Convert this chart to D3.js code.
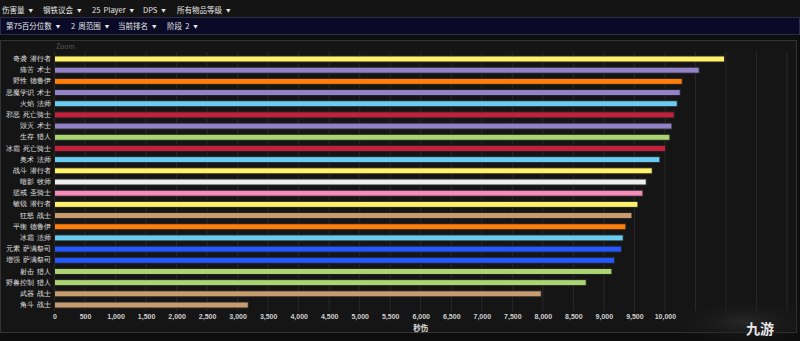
<!DOCTYPE html>
<html>
<head>
<meta charset="utf-8">
<script src="https://cdn.jsdelivr.net/npm/d3@7"></script>
<style>
  body { margin: 0; background: #0e0e0e; }
  svg { display: block; font-family: "Noto Sans CJK SC", "Noto Sans", sans-serif; }
</style>
</head>
<body>
<div id="chart-container"></div>
<script>
// Dữ liệu: tên chuyên精 + lớp, giá trị DPS, màu theo lớp
const specs = ["奇袭 潜行者", "痛苦 术士", "野性 德鲁伊", "恶魔学识 术士", "火焰 法师", "邪恶 死亡骑士",
  "毁灭 术士", "生存 猎人", "冰霜 死亡骑士", "奥术 法师", "战斗 潜行者", "暗影 牧师", "惩戒 圣骑士",
  "敏锐 潜行者", "狂怒 战士", "平衡 德鲁伊", "冰霜 法师", "元素 萨满祭司", "增强 萨满祭司",
  "射击 猎人", "野兽控制 猎人", "武器 战士", "角斗 战士"];
const dps = [10978, 10562, 10283, 10251, 10202, 10152, 10115, 10082, 10011, 9918, 9792, 9694, 9640,
  9558, 9460, 9361, 9317, 9290, 9176, 9132, 8711, 7974, 3175];
const classes = ["rogue", "warlock", "druid", "warlock", "mage", "dk", "warlock", "hunter", "dk", "mage",
  "rogue", "priest", "paladin", "rogue", "warrior", "druid", "mage", "shaman", "shaman", "hunter",
  "hunter", "warrior", "warrior"];
const classNames = ["rogue", "warlock", "druid", "mage", "dk", "hunter", "priest", "paladin", "warrior", "shaman"];
const classColors = ["#FFF26A", "#9482C9", "#FF7D0A", "#69CCF0", "#C41F3B", "#ABD473", "#EEEEEE", "#F58CBA", "#C79C6E", "#2459FF"];
const xTicks = d3.range(0, 12001, 500);
const menu1 = ["伤害量", "钢铁议会", "25 Player", "DPS", "所有物品等级"];
const menu2 = ["第75百分位数", "2 周范围", "当前排名", "阶段 2"];

const width = 800, height = 341;
const margin = { top: 53.4, right: 13, bottom: 30.4, left: 54.5 };

const svg = d3.select("#chart-container").append("svg")
  .attr("width", width).attr("height", height);

const data = specs.map((s, i) => ({ name: s, value: dps[i], cls: classes[i] }));
const color = d3.scaleOrdinal().domain(classNames).range(classColors);

// Nền
svg.append("rect").attr("width", width).attr("height", height).attr("fill", "#0e0e0e");

// Mục menu: chữ + mũi tên nhỏ
function menuItem(xPos, yPos, label) {
  const t = svg.append("text").attr("x", xPos).attr("y", yPos)
    .attr("fill", "#e6e6e6").style("font-size", "7.5px").style("word-spacing", "1.5px");
  t.append("tspan").text(label);
  t.append("tspan").attr("dx", 4).attr("dy", -0.5).style("font-size", "4.5px").text("▼");
}

// Thanh menu 1
svg.append("rect").attr("x", 0).attr("y", 0).attr("width", width).attr("height", 17).attr("fill", "#141414");
const m1x = [2, 43, 92, 143, 177];
menu1.forEach((t, i) => menuItem(m1x[i], 12.5, t));

// Thanh menu 2
svg.append("rect").attr("x", 0.5).attr("y", 17.5).attr("width", width - 1).attr("height", 17)
  .attr("fill", "#0a0a26").attr("stroke", "#2c2c44");
const m2x = [6, 71, 118, 167];
menu2.forEach((t, i) => menuItem(m2x[i], 28.5, t));

// Khung biểu đồ
svg.append("rect").attr("x", 0.5).attr("y", 40.5).attr("width", 796).attr("height", 292)
  .attr("fill", "#151515").attr("stroke", "#333");

svg.append("text").attr("x", 56).attr("y", 49).attr("fill", "#555")
  .style("font-size", "7px").text("Zoom");

const x = d3.scaleLinear().domain([0, 12000]).range([margin.left, 787]);
const y = d3.scaleBand().domain(specs).range([margin.top, height - margin.bottom]).paddingInner(0.46).paddingOuter(0.23);

// Lưới dọc
svg.append("g").selectAll("line").data(xTicks).enter().append("line")
  .attr("x1", d => x(d)).attr("x2", d => x(d))
  .attr("y1", 52).attr("y2", 311)
  .attr("stroke", "#2a2a2a").attr("stroke-width", 1);

// Trục x
const xAxis = svg.append("g").attr("transform", `translate(0, 311)`)
  .call(d3.axisBottom(x).tickValues(xTicks.filter(d => d <= 10000)).tickSize(0).tickPadding(3)
    .tickFormat(d3.format(",")));
xAxis.select(".domain").remove();
xAxis.selectAll("text").attr("fill", "#d0d0d0").style("font-size", "7px").style("font-weight", "bold");

svg.append("text").attr("x", (margin.left + 787) / 2).attr("y", 331)
  .attr("text-anchor", "middle").attr("fill", "#e0e0e0")
  .style("font-size", "7.5px").style("font-weight", "bold").text("秒伤");

// Trục y
const yAxis = svg.append("g").attr("transform", `translate(${margin.left - 3}, 0)`)
  .call(d3.axisLeft(y).tickSize(0).tickPadding(0));
yAxis.select(".domain").remove();
yAxis.selectAll("text").attr("fill", "#e0e0e0").style("font-size", "6.5px").style("word-spacing", "2px");

// Các cột
svg.append("g").selectAll("rect").data(data).enter().append("rect")
  .attr("x", x(0))
  .attr("y", d => y(d.name))
  .attr("width", d => x(d.value) - x(0))
  .attr("height", y.bandwidth())
  .attr("fill", d => color(d.cls))
  .attr("stroke", "#222").attr("stroke-width", 1);

// Hình mờ góc phải dưới
const defs = svg.append("defs");
const grad = defs.append("radialGradient").attr("id", "wm");
grad.append("stop").attr("offset", "0%").attr("stop-color", "#2a2a2a").attr("stop-opacity", 0.9);
grad.append("stop").attr("offset", "100%").attr("stop-color", "#151515").attr("stop-opacity", 0);
svg.append("ellipse").attr("cx", 745).attr("cy", 322).attr("rx", 75).attr("ry", 24).attr("fill", "url(#wm)");
svg.append("text").attr("x", 760).attr("y", 334).attr("text-anchor", "middle")
  .attr("fill", "#e8e8e8").style("font-size", "14px").style("font-weight", "bold").text("九游");
</script>
</body>
</html>
